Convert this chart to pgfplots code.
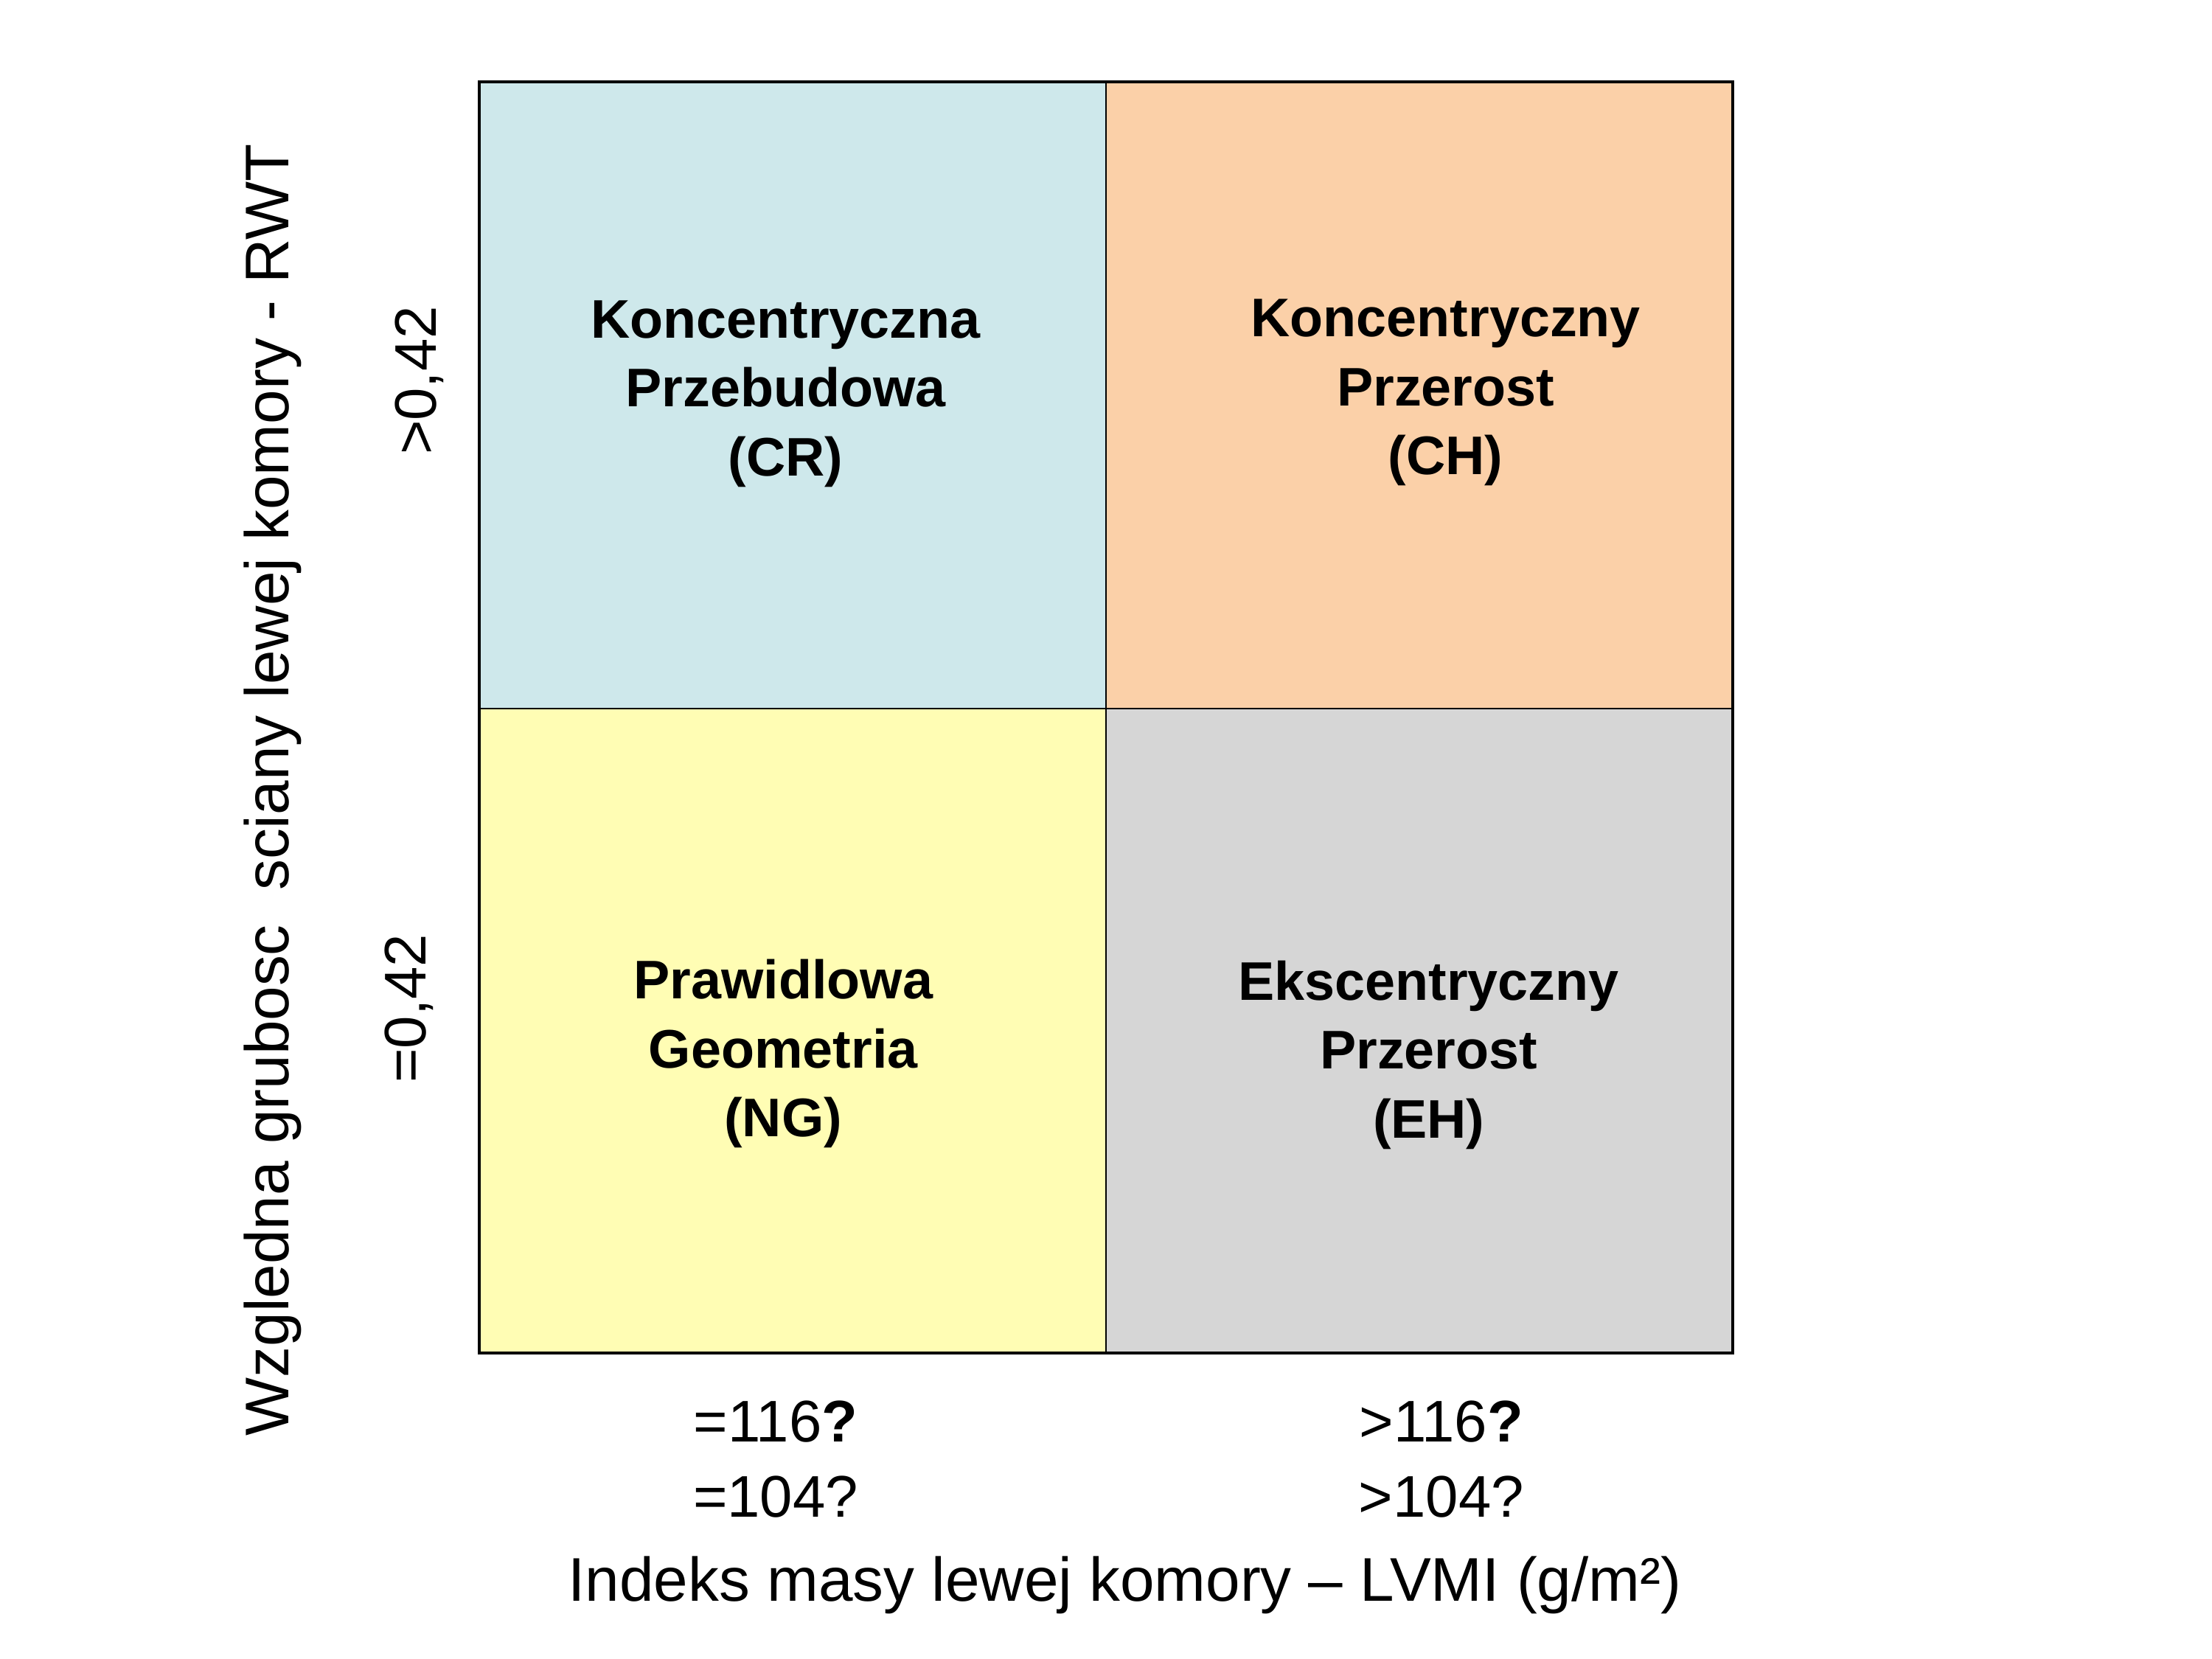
\documentclass[border=0pt]{standalone}
\usepackage{fontspec}
\setmainfont{Liberation Sans}
\usepackage{pgfplots}
\pgfplotsset{compat=1.18}
\definecolor{cellCR}{RGB}{206,232,235}
\definecolor{cellCH}{RGB}{251,208,168}
\definecolor{cellNG}{RGB}{255,253,180}
\definecolor{cellEH}{RGB}{214,214,214}
\begin{document}
\begin{tikzpicture}
\useasboundingbox (0,0) rectangle (750bp,562.5bp);
\begin{axis}[
  at={(162.5bp,103.75bp)}, anchor=south west,
  scale only axis, width=425bp, height=431bp,
  xmin=0, xmax=2, ymin=0, ymax=2,
  axis on top,
  axis line style={line width=0.8bp},
  major tick length=0pt,
  xtick={0.473,1.535},
  xticklabels={{=116\textbf{?}\\=104?},{>116\textbf{?}\\>104?}},
  xticklabel style={align=center, font=\fontsize{20}{25.5}\selectfont, inner sep=0pt, anchor=north},
  xticklabel shift=16bp,
  ytick={0.542,1.530},
  yticklabels={{\raisebox{3.5bp}{=0,42}},{>0,42}},
  yticklabel style={rotate=90, anchor=base, inner sep=0pt, font=\fontsize{20}{24}\selectfont},
  yticklabel shift=14.75bp,
  xlabel={Indeks masy lewej komory – LVMI (g/m²)},
  xlabel style={at={(rel axis cs:0.515,-0.195)}, anchor=base, inner sep=0pt, font=\fontsize{21}{25}\selectfont},
  ylabel={Wzgledna grubosc\ \ sciany lewej komory - RWT},
  ylabel style={at={(rel axis cs:-0.1518,0.443)}, anchor=base, inner sep=0pt, font=\fontsize{21}{25}\selectfont},
]
\addplot[draw=black, line width=0.5bp, fill=cellCR] coordinates {(0,1.014) (1,1.014) (1,2) (0,2)} -- cycle;
\addplot[draw=black, line width=0.5bp, fill=cellCH] coordinates {(1,1.014) (2,1.014) (2,2) (1,2)} -- cycle;
\addplot[draw=black, line width=0.5bp, fill=cellNG] coordinates {(0,0) (1,0) (1,1.014) (0,1.014)} -- cycle;
\addplot[draw=black, line width=0.5bp, fill=cellEH] coordinates {(1,0) (2,0) (2,1.014) (1,1.014)} -- cycle;
\node[align=center, font=\fontsize{18.5}{23.5}\selectfont\bfseries] at (axis cs:0.489,1.509) {Koncentryczna\\Przebudowa\\(CR)};
\node[align=center, font=\fontsize{18.5}{23.5}\selectfont\bfseries] at (axis cs:1.542,1.511) {Koncentryczny\\Przerost\\(CH)};
\node[align=center, font=\fontsize{18.5}{23.5}\selectfont\bfseries] at (axis cs:0.485,0.471) {Prawidlowa\\Geometria\\(NG)};
\node[align=center, font=\fontsize{18.5}{23.5}\selectfont\bfseries] at (axis cs:1.515,0.469) {Ekscentryczny\\Przerost\\(EH)};
\end{axis}
\end{tikzpicture}
\end{document}
